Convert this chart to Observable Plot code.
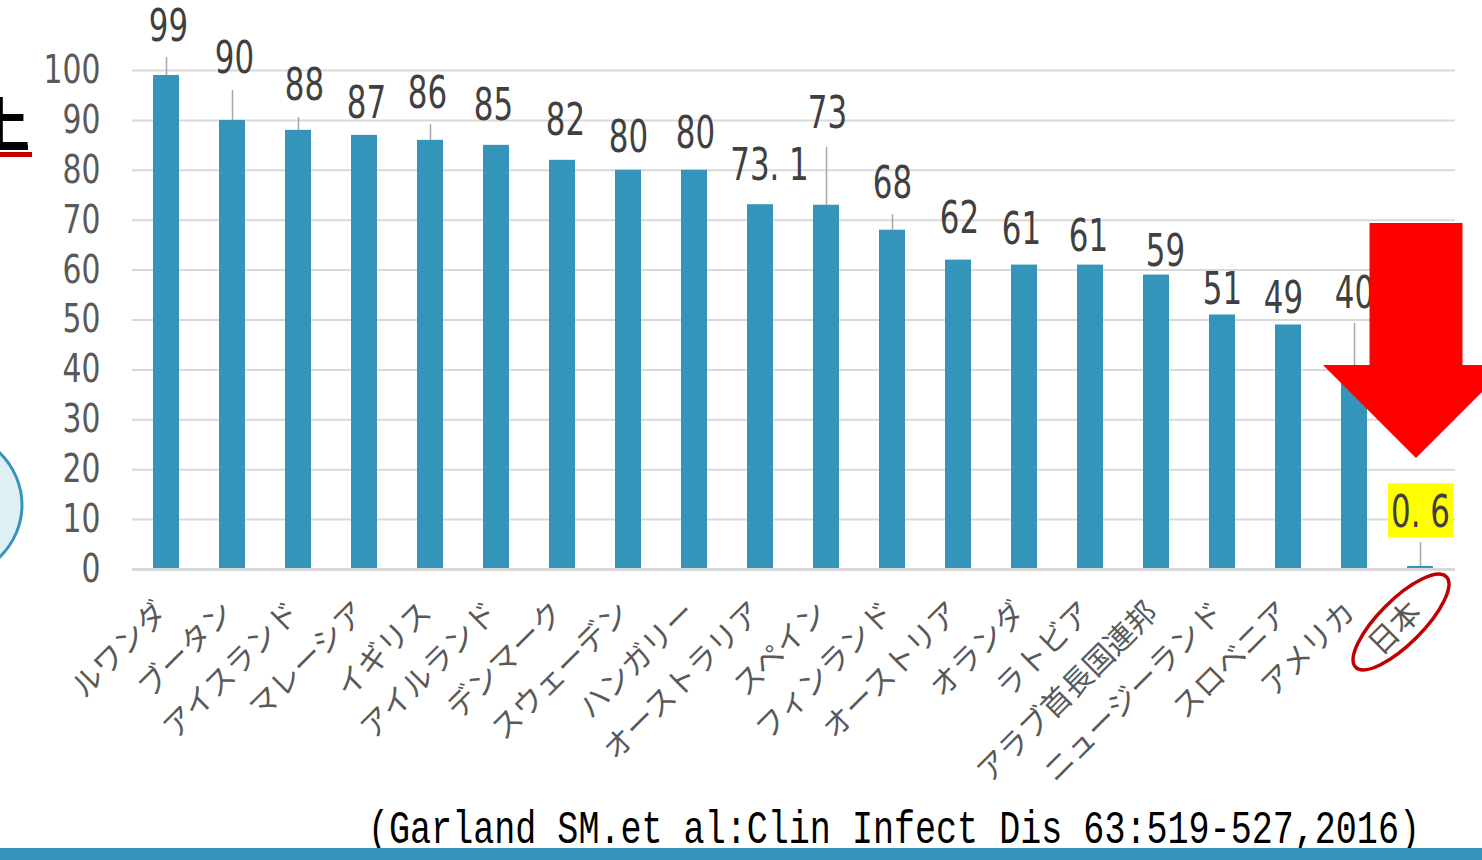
<!DOCTYPE html>
<html><head><meta charset="utf-8">
<script src="https://cdn.jsdelivr.net/npm/d3@7"></script>
<script src="https://cdn.jsdelivr.net/npm/@observablehq/plot@0.6"></script>
<style>
html,body{margin:0;padding:0;background:#fff;overflow:hidden;width:1482px;height:860px;}
#chart{position:absolute;left:0;top:0;}
</style></head><body><div id="chart"></div>
<script>
// ---- data ----
const countries = ["ルワンダ","ブータン","アイスランド","マレーシア","イギリス","アイルランド","デンマーク","スウェーデン","ハンガリー","オーストラリア","スペイン","フィンランド","オーストリア","オランダ","ラトビア","アラブ首長国連邦","ニュージーランド","スロベニア","アメリカ","日本"];
const rates = [99,90,88,87,86,85,82,80,80,73.1,73,68,62,61,61,59,51,49,40,0.6];
// where each value label sits (value units, label baseline) and its small horizontal nudge
const labelAt = [106.0,99.4,94.0,90.4,92.4,90.0,87.0,83.6,84.4,78.0,88.4,74.5,67.5,65.3,63.9,60.9,53.3,51.5,52.5,8.6];
const labelNudge = [2,2,6,2,-3,-3,3,0,1,9,1,0,1,-3,-2,9,0,-5,0,0];
// leader lines: start (value units) for labels that have one
const leaderFrom = [102.6,96.0,90.6,null,89.2,null,null,null,null,null,84.6,71.1,null,null,null,null,null,null,49.3,5.4];
const yTicks = [0,10,20,30,40,50,60,70,80,90,100];
const citation = "(Garland SM.et al:Clin Infect Dis 63:519-527,2016)";
const highlighted = "日本";

const BAR = "#3494ba";
const NUMFONT = "'DejaVu Sans Condensed','DejaVu Sans',sans-serif";
const JPFONT = "'Noto Sans CJK JP',sans-serif";

const fmt = v => String(v).replace(".", ". ");
const table = countries.map((c, i) => ({country: c, rate: rates[i], labelAt: labelAt[i], nudge: labelNudge[i], leader: leaderFrom[i], text: fmt(rates[i])}));
const hl = table.find(d => d.country === highlighted);

const plot = Plot.plot({
  width: 1482, height: 860,
  marginLeft: 132, marginRight: 27, marginTop: 70, marginBottom: 291,
  x: {domain: countries, paddingInner: 0.6, paddingOuter: 0.3, axis: null},
  y: {domain: [0, 100]},
  style: {background: "transparent", overflow: "visible", fontFamily: NUMFONT},
  marks: [
    Plot.gridY(yTicks, {stroke: "#d9d9d9", strokeOpacity: 1, strokeWidth: 2}),
    Plot.axisY(yTicks, {tickSize: 0, tickPadding: 32, fontSize: 39, fill: "#595959", label: null, fontFamily: NUMFONT, className: "ytick"}),
    Plot.barY(table, {x: "country", y: "rate", fill: BAR}),
    Plot.ruleY([0], {stroke: "#d9d9d9", strokeWidth: 3}),
    Plot.ruleX(table.filter(d => d.leader != null), {x: "country", y1: "leader", y2: "rate", stroke: "#a6a6a6", strokeWidth: 1.5}),
    Plot.barY([hl], {x: "country", y1: d => d.labelAt - 2.2, y2: d => d.labelAt + 8.6, fill: "#ffff00", insetLeft: -19, insetRight: -20}),
    ...table.map(d => Plot.text([d], {x: "country", y: "labelAt", text: "text", dx: d.nudge, lineAnchor: "bottom", fontSize: 44, fill: "#404040", fontFamily: NUMFONT, className: "vlabel"})),
    Plot.text(table, {x: "country", frameAnchor: "bottom", text: "country", rotate: -45, textAnchor: "end", lineAnchor: "middle", dx: -4, dy: 38, fontSize: 30, fill: "#595959", fontFamily: JPFONT})
  ]
});
document.getElementById("chart").appendChild(plot);

// condense the numeric labels horizontally (the original uses a narrow face)
function condense(sel, k) {
  sel.each(function () {
    const w = this.getComputedTextLength();
    if (w > 0) { this.setAttribute("textLength", (w * k).toFixed(1)); this.setAttribute("lengthAdjust", "spacingAndGlyphs"); }
  });
}
const svg = d3.select(plot);
condense(svg.selectAll(".vlabel text"), 0.78);
condense(svg.selectAll(".ytick text"), 0.85);

// ---- annotations placed through the scales ----
const xs = plot.scale("x"), ys = plot.scale("y");
const bw = xs.bandwidth;
const cx = xs.apply(highlighted) + bw / 2;
const y0 = ys.apply(0);

// red arrow pointing down at Japan
const ax = cx - 4, tipY = ys.apply(hl.labelAt) - 68;
const arrow = [[ax - 46.5, tipY - 235], [ax + 46.5, tipY - 235], [ax + 46.5, tipY - 93], [ax + 93, tipY - 93], [ax, tipY], [ax - 93, tipY - 93], [ax - 46.5, tipY - 93]];
svg.append("polygon").attr("points", arrow.map(p => p.join(",")).join(" ")).attr("fill", "#ff0000");

// red ellipse around the 日本 label
svg.append("ellipse").attr("cx", 0).attr("cy", 0).attr("rx", 64).attr("ry", 22)
  .attr("transform", `translate(${cx - 19},${y0 + 53}) rotate(-45)`)
  .attr("fill", "none").attr("stroke", "#c00000").attr("stroke-width", 3.5);

// left-edge slide fragments
svg.append("ellipse").attr("cx", -60).attr("cy", 505).attr("rx", 82).attr("ry", 76)
  .attr("fill", "#dff0f5").attr("stroke", BAR).attr("stroke-width", 3);
svg.append("text").text("上").attr("x", -28).attr("y", 146).attr("text-anchor", "start").attr("font-size", 58).attr("font-weight", 700)
  .attr("font-family", JPFONT).attr("fill", "#000");
svg.append("rect").attr("x", 0).attr("y", 145).attr("width", 28).attr("height", 5).attr("fill", "#000");
svg.append("rect").attr("x", 0).attr("y", 152).attr("width", 32).attr("height", 5).attr("fill", "#c00000");

// citation and bottom band
svg.append("text").text(citation).attr("x", 368).attr("y", 843).attr("text-anchor", "start")
  .attr("font-family", "'Liberation Mono','DejaVu Sans Mono',monospace").attr("font-size", 46)
  .attr("textLength", 1052).attr("lengthAdjust", "spacingAndGlyphs").attr("fill", "#000");
svg.append("rect").attr("x", 0).attr("y", 848).attr("width", 1482).attr("height", 12).attr("fill", "#3592b9");
</script></body></html>
